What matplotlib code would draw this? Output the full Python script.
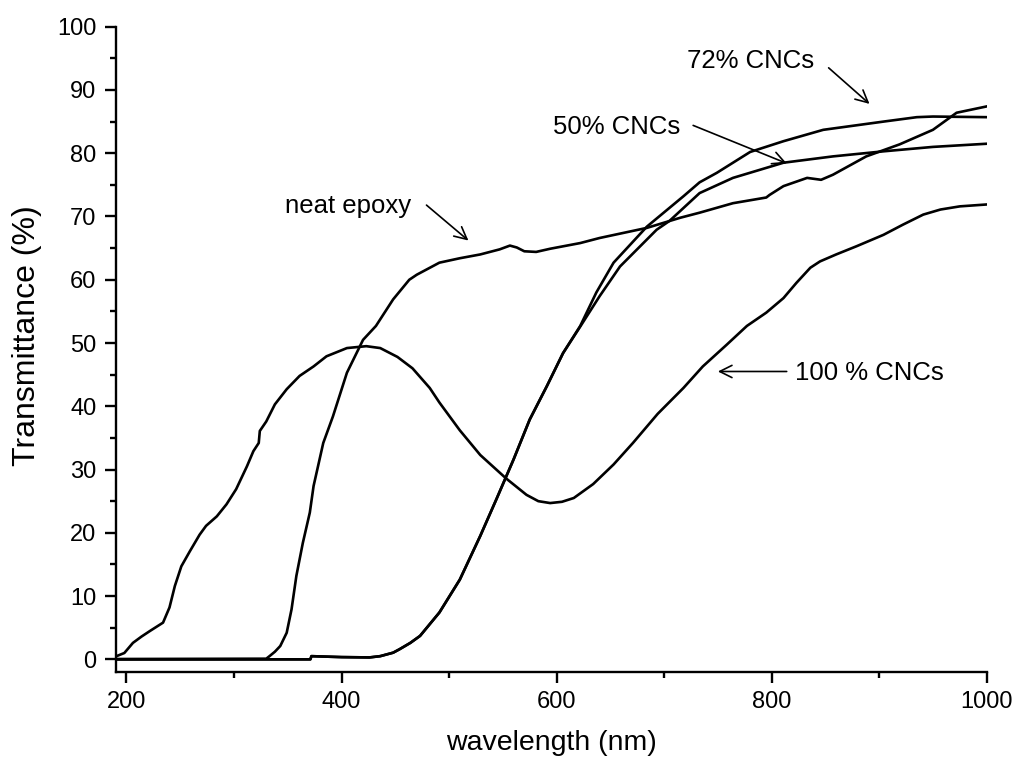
import matplotlib
matplotlib.use("Agg")
import matplotlib.pyplot as plt
from matplotlib.ticker import MultipleLocator

plt.rcParams['font.family'] = ['Liberation Sans', 'DejaVu Sans']

# DATA

# 100 % CNCs
wl_100 = [190.7, 198, 206, 214, 222, 234, 240, 245, 251, 259, 268, 274, 284, 293,
          302, 312, 318, 323, 324, 330, 338, 349, 361, 374, 386, 405, 423, 436,
          452, 466, 482, 491, 510, 529, 553, 572, 583, 594, 605, 616, 634, 653, 671,
          694, 718, 736, 758, 777, 795, 811, 823, 836, 845, 860, 879, 904, 922,
          941, 957, 975, 1000]
tr_100 = [0.5, 1.0, 2.6, 3.6, 4.5, 5.8, 8.2, 11.6, 14.7, 17.1, 19.7, 21.1, 22.6, 24.5,
          26.9, 30.5, 32.9, 34.2, 36.1, 37.6, 40.3, 42.7, 44.8, 46.3, 47.9, 49.2, 49.5, 49.2,
          47.8, 46.0, 42.9, 40.6, 36.2, 32.3, 28.6, 26.0, 25.0, 24.7, 24.9, 25.5, 27.7, 30.8, 34.2,
          38.8, 42.9, 46.3, 49.7, 52.7, 54.8, 57.1, 59.5, 61.9, 62.9, 64.0, 65.3, 67.1, 68.7,
          70.3, 71.1, 71.6, 71.9]

# neat epoxy
wl_epoxy = [190, 330, 333, 338, 343, 349, 353.5, 358, 364, 370.5, 374, 383, 392, 405,
            420, 432, 448, 463, 470, 491, 510, 529, 547, 556.6, 563, 570, 581, 594,
            622, 640, 684, 715, 733, 764, 795, 798, 811, 833, 846, 857, 888, 919,
            950, 972, 1000]
tr_epoxy = [0.05, 0.1, 0.5, 1.2, 2.1, 4.2, 7.9, 13.2, 18.4, 23.2, 27.4, 34.2, 38.4, 45.3,
            50.5, 52.7, 56.9, 60.0, 60.8, 62.7, 63.4, 64.0, 64.8, 65.4, 65.1, 64.5, 64.4, 64.9,
            65.8, 66.6, 68.2, 69.8, 70.6, 72.1, 73.0, 73.4, 74.8, 76.1, 75.8, 76.6, 79.5, 81.4,
            83.7, 86.4, 87.4]

# 72 % CNCs
wl_72 = [190, 371, 372, 400, 426, 436, 448, 454, 464, 473, 491, 510, 529, 544, 560,
         575, 591, 606, 622, 637, 653, 684, 718, 733, 749, 780, 811, 848, 904, 935,
         950, 1000]
tr_72 = [0.0, 0.0, 0.5, 0.35, 0.3, 0.5, 1.05, 1.6, 2.6, 3.7, 7.4, 12.6, 19.5, 25.3, 31.6,
         37.9, 43.2, 48.4, 52.7, 58.0, 62.7, 68.4, 73.2, 75.4, 76.9, 80.2, 81.9, 83.7, 85.0, 85.7,
         85.8, 85.7]

# 50 % CNCs
wl_50 = [190, 371, 372, 400, 426, 436, 448, 454, 464, 473, 491, 510, 529, 544, 560,
         575, 591, 606, 622, 640, 659, 693, 705, 733, 764, 811, 857, 904, 950, 1000]
tr_50 = [0.0, 0.0, 0.5, 0.35, 0.3, 0.5, 1.05, 1.6, 2.6, 3.7, 7.4, 12.6, 19.5, 25.3, 31.6,
         37.9, 43.2, 48.4, 52.6, 57.4, 62.1, 67.9, 69.3, 73.7, 76.1, 78.5, 79.5, 80.3, 81.0, 81.5]

# labels: (text, text xy, arrow tail xy, arrow head xy)
labels = [
    ("neat epoxy", (347, 71.6), (479, 71.8), (518, 66.2)),
    ("72% CNCs", (721, 94.5), (853, 93.5), (891, 87.8)),
    ("50% CNCs", (597, 84.2), (727, 84.4), (814, 78.4)),
    ("100 % CNCs", (822, 45.2), (814, 45.5), (750, 45.5)),
]

# FIGURE

fig = plt.figure(figsize=(10.17, 7.63), dpi=100)
ax = fig.add_axes([0.1138, 0.1193, 0.9702 - 0.1138, 0.965 - 0.1193])

lw = 1.9
ax.plot(wl_100, tr_100, c='k', lw=lw)
ax.plot(wl_epoxy, tr_epoxy, c='k', lw=lw)
ax.plot(wl_72, tr_72, c='k', lw=lw)
ax.plot(wl_50, tr_50, c='k', lw=lw)

for txt, pos, tail, head in labels:
    ax.text(pos[0], pos[1], txt, fontsize=18.5, va='center', ha='left')
    ax.annotate("", xy=head, xytext=tail,
                arrowprops=dict(arrowstyle='->', lw=1.2, color='k',
                                mutation_scale=22, shrinkA=0, shrinkB=0))

ax.set_xlim(190, 1000)
ax.set_ylim(-2, 100)

ax.spines['top'].set_visible(False)
ax.spines['right'].set_visible(False)
ax.spines['left'].set_linewidth(1.7)
ax.spines['bottom'].set_linewidth(1.7)

ax.xaxis.set_major_locator(MultipleLocator(200))
ax.xaxis.set_minor_locator(MultipleLocator(100))
ax.yaxis.set_major_locator(MultipleLocator(10))
ax.yaxis.set_minor_locator(MultipleLocator(5))
ax.tick_params(which='major', direction='out', length=8, width=1.7, labelsize=17, pad=6)
ax.tick_params(which='minor', direction='out', length=4.5, width=1.7)

ax.set_xlabel("wavelength (nm)", fontsize=20.5, labelpad=12)
ax.set_ylabel("Transmittance (%)", fontsize=23)
ax.yaxis.set_label_coords(-0.085, 0.522)

fig.savefig("out.png", dpi=100)
